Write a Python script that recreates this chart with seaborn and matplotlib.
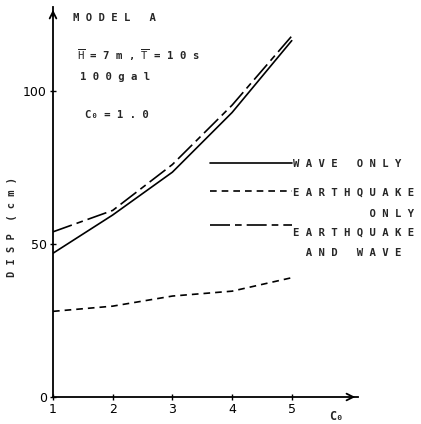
import numpy as np
import pandas as pd
import seaborn as sns
import matplotlib.pyplot as plt
from matplotlib.lines import Line2D
from matplotlib.legend_handler import HandlerLine2D

# values
c0 = [1, 2, 3, 4, 5]
wave_only = [47, 59.5, 73.5, 93, 116.5]
quake_only = [28, 29.7, 33, 34.6, 39]
quake_and_wave = [54, 61, 76, 95.4, 118]

x_ticks = [1, 2, 3, 4, 5]
y_ticks = [0, 50, 100]

labels = ["W A V E   O N L Y",
          "E A R T H Q U A K E\n            O N L Y",
          "E A R T H Q U A K E\n  A N D   W A V E"]
notes = ["M O D E L   A",
         r"$\overline{\mathtt{H}}$ = 7 m , $\overline{\mathtt{T}}$ = 1 0 s",
         "1 0 0 g a l",
         "C\u2080 = 1 . 0"]

df = pd.DataFrame({"c0": c0, "wave": wave_only, "quake": quake_only, "both": quake_and_wave})


class ShiftedLine(HandlerLine2D):
    # legend line moved up so it sits on the first text row
    def __init__(self, shift=0.0, **kw):
        super().__init__(**kw)
        self.shift = shift

    def create_artists(self, legend, orig_handle, xdescent, ydescent, width, height, fontsize, trans):
        arts = super().create_artists(legend, orig_handle, xdescent, ydescent, width, height, fontsize, trans)
        for a in arts:
            a.set_ydata(np.asarray(a.get_ydata(), dtype=float) + self.shift)
        return arts


sns.set_style("ticks")
plt.rcParams['font.family'] = ['DejaVu Sans Mono', 'DejaVu Sans']
plt.rcParams['mathtext.fontset'] = 'dejavusans'

fig = plt.figure(figsize=(4.21, 4.24), dpi=100)
ax = fig.add_axes([53 / 421, 27 / 424, 305 / 421, 390 / 424])

lw = 1.2
sns.lineplot(data=df, x="c0", y="wave", ax=ax, color="black", lw=lw)
sns.lineplot(data=df, x="c0", y="quake", ax=ax, color="black", lw=lw, linestyle=(0, (4, 3)))
sns.lineplot(data=df, x="c0", y="both", ax=ax, color="black", lw=lw, linestyle=(0, (12, 3, 4, 3)))

ax.set_xlim(1, 6.11)
ax.set_ylim(0, 127.5)
ax.set_xticks(x_ticks)
ax.set_yticks(y_ticks)
ax.tick_params(direction="inout", length=5, width=1, colors="black", labelsize=9, pad=2)
for lab in ax.get_xticklabels() + ax.get_yticklabels():
    lab.set_family("DejaVu Sans")
sns.despine(ax=ax)
for s in ("left", "bottom"):
    ax.spines[s].set_linewidth(1.3)
    ax.spines[s].set_color("black")

# arrow heads on the axes
ax.annotate("", xy=(1.0, 0), xytext=(0.97, 0), xycoords="axes fraction",
            arrowprops=dict(arrowstyle="->", color="black", lw=1.3, mutation_scale=12), annotation_clip=False)
ax.annotate("", xy=(0, 1.0), xytext=(0, 0.97), xycoords="axes fraction",
            arrowprops=dict(arrowstyle="->", color="black", lw=1.3, mutation_scale=12), annotation_clip=False)

ax.set_ylabel("D I S P  ( c m )", fontsize=7.5, fontweight="bold")
ax.yaxis.set_label_coords(-0.118, 0.436)
ax.set_xlabel("C\u2080", fontsize=8.5, fontweight="bold")
ax.xaxis.set_label_coords(0.93, -0.033)

fs = 7.7
for txt, x, y in zip(notes, [0.066, 0.079, 0.089, 0.105], [0.972, 0.877, 0.82, 0.723]):
    ax.text(x, y, txt, transform=ax.transAxes, fontsize=fs, va="center", ha="left", fontweight="bold")

h1 = Line2D([], [], color="black", lw=lw)
h2 = Line2D([], [], color="black", lw=lw, linestyle=(0, (4, 3)))
h3 = Line2D([], [], color="black", lw=lw, linestyle=(0, (12, 3, 4, 3)))
leg_kw = dict(loc="upper left", frameon=False, fontsize=fs, handlelength=7.7, handletextpad=0.1,
              borderpad=0, borderaxespad=0)

leg1 = ax.legend([h1], labels[:1], bbox_to_anchor=(0.515, 0.61), **leg_kw)
for t in leg1.get_texts():
    t.set_fontweight("bold")
ax.add_artist(leg1)

leg2 = ax.legend([h2, h3], labels[1:], bbox_to_anchor=(0.515, 0.536), labelspacing=0.8,
                 handler_map={h2: ShiftedLine(shift=9.0), h3: ShiftedLine(shift=13.0)}, **leg_kw)
for t in leg2.get_texts():
    t.set_linespacing(2.35)
    t.set_fontweight("bold")

fig.savefig("out.png", dpi=100)
